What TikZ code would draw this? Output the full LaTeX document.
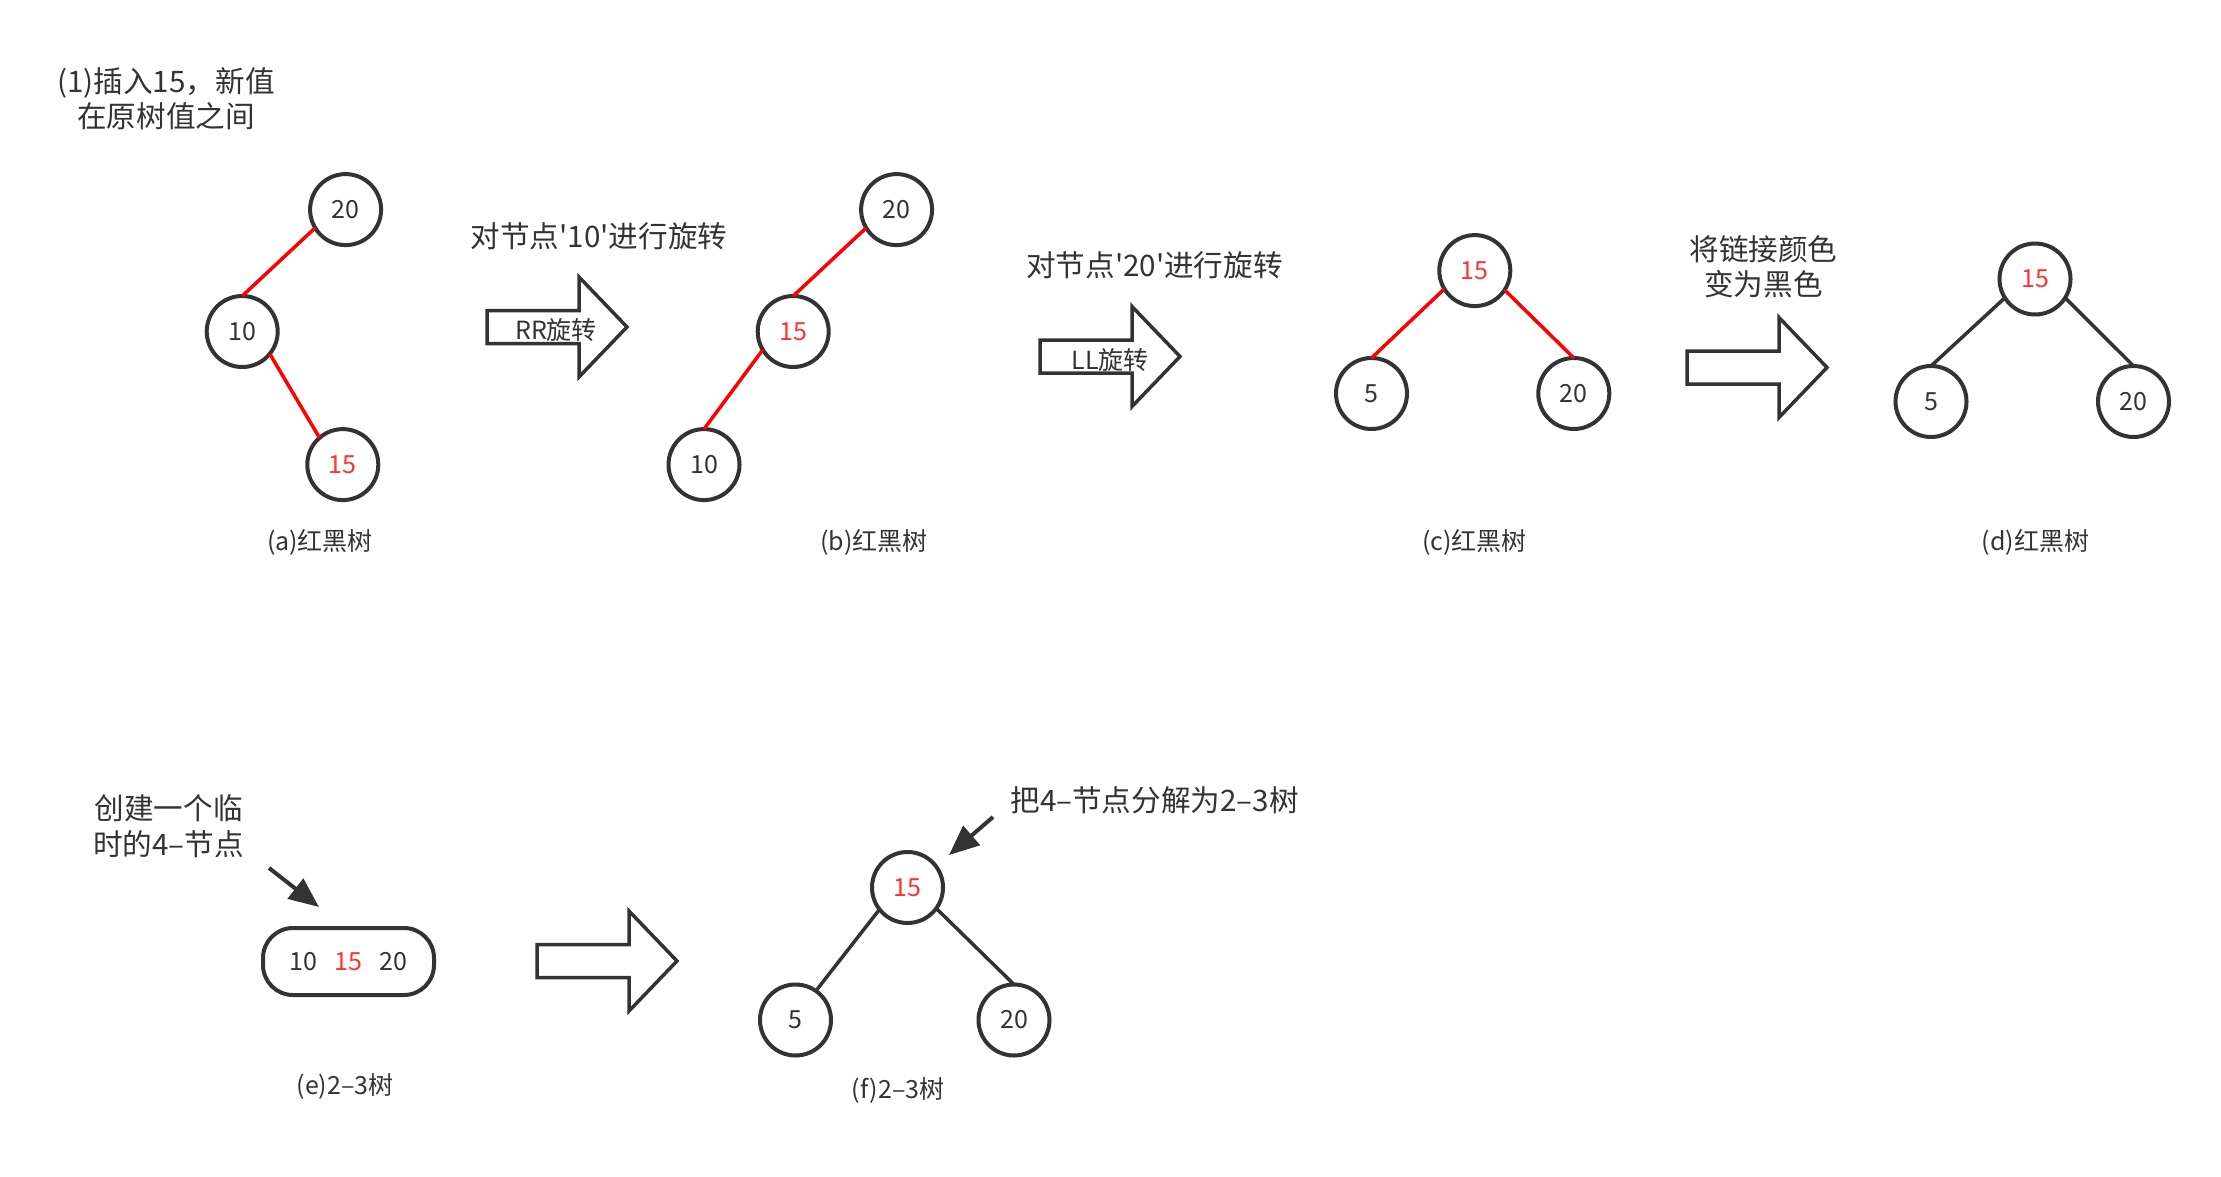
\documentclass[tikz,border=0pt]{standalone}
\usepackage{fontspec}
\setmainfont{Noto Sans CJK SC}
\usetikzlibrary{arrows.meta}
\definecolor{ink}{HTML}{333333}
\definecolor{redline}{HTML}{FF0000}
\definecolor{redtext}{HTML}{FF3333}
\begin{document}
\begin{tikzpicture}[x=0.5pt,y=-0.5pt,
  tnode/.style={circle,draw=ink,line width=2pt,minimum size=35.5pt,inner sep=0pt,outer sep=0pt,text=ink,font=\fontsize{12.5}{15}\selectfont},
  rnode/.style={tnode,text=redtext},
  redge/.style={draw=redline,line width=1.75pt},
  bedge/.style={draw=ink,line width=1.75pt},
  caption/.style={text=ink,font=\fontsize{12.5}{15}\selectfont,inner sep=0pt},
  note/.style={text=ink,font=\fontsize{14.8}{17.7}\selectfont,align=center,inner sep=0pt},
  blockarrow/.style={draw=ink,line width=1.75pt,fill=white,line join=miter},
  pointer/.style={draw=ink,line width=2pt,-{Triangle[length=15pt,width=12.5pt]}}
]
\useasboundingbox (0,0) rectangle (2221,1177);

% title
\node[note] (title) at (166,98.5) {(1)插入15，新值\\在原树值之间};

% tree (a)
\node[tnode] (a20) at (345.6,209.6) {20};
\node[tnode] (a10) at (242.2,331.5) {10};
\node[rnode] (a15) at (342.8,464.6) {15};
\draw[redge] (a20.211) -- (a10.north);
\draw[redge] (a10.321) -- (a15.131);
\node[caption] (capa) at (320,542.5) {(a)红黑树};

% arrow 1
\node[note] (n1) at (599,236.5) {对节点\textquotesingle 10\textquotesingle 进行旋转};
\draw[blockarrow] (487,327) ++(0,-16.5) -- ++(92,0) -- ++(0,-33.5) -- ++(48,50) -- ++(-48,50) -- ++(0,-33.5) -- ++(-92,0) -- cycle;
\node[caption] (rr) at (556,330) {RR旋转};

% tree (b)
\node[tnode] (b20) at (896.6,209.6) {20};
\node[rnode] (b15) at (793.2,331.5) {15};
\node[tnode] (b10) at (704,464.6) {10};
\draw[redge] (b20.211) -- (b15.north);
\draw[redge] (b15.211) -- (b10.north);
\node[caption] (capb) at (874,542.5) {(b)红黑树};

% arrow 2
\node[note] (n2) at (1154.5,265) {对节点\textquotesingle 20\textquotesingle 进行旋转};
\draw[blockarrow] (1040,356.5) ++(0,-16.5) -- ++(92,0) -- ++(0,-33.5) -- ++(48,50) -- ++(-48,50) -- ++(0,-33.5) -- ++(-92,0) -- cycle;
\node[caption] (ll) at (1110,360) {LL旋转};

% tree (c)
\node[rnode] (c15) at (1474.8,270.6) {15};
\node[tnode] (c5) at (1371.5,393.5) {5};
\node[tnode] (c20) at (1573.8,393.5) {20};
\draw[redge] (c15.211) -- (c5.north);
\draw[redge] (c15.327) -- (c20.north);
\node[caption] (capc) at (1474.6,542.5) {(c)红黑树};

% arrow 3
\node[note] (n3) at (1763.5,267) {将链接颜色\\变为黑色};
\draw[blockarrow] (1687,367.5) ++(0,-16.5) -- ++(92,0) -- ++(0,-33.5) -- ++(48,50) -- ++(-48,50) -- ++(0,-33.5) -- ++(-92,0) -- cycle;

% tree (d)
\node[rnode] (d15) at (2035,279) {15};
\node[tnode] (d5) at (1931,401.5) {5};
\node[tnode] (d20) at (2133.5,401.5) {20};
\draw[bedge] (d15.212) -- (d5.north);
\draw[bedge] (d15.328) -- (d20.north);
\node[caption] (capd) at (2035.5,542.5) {(d)红黑树};

% (e) temporary 4-node
\node[note] (n4) at (168.6,826) {创建一个临\\时的4–节点};
\coordinate (p1s) at (269,868);
\coordinate (p1e) at (319,907);
\draw[pointer] (p1s) -- (p1e);
\node[draw=ink,line width=2pt,rounded corners=15pt,minimum width=85.5pt,minimum height=33.5pt,inner sep=0pt,text=ink,font=\fontsize{12.5}{15}\selectfont] (e4) at (348.5,961.5) {10\hspace{8.5pt}\textcolor{redtext}{15}\hspace{8.5pt}20};
\node[caption] (cape) at (345,1086.5) {(e)2–3树};

% arrow 4
\draw[blockarrow] (537,961) ++(0,-16.5) -- ++(92,0) -- ++(0,-33.5) -- ++(48,50) -- ++(-48,50) -- ++(0,-33.5) -- ++(-92,0) -- cycle;

% tree (f)
\node[rnode] (f15) at (907.5,887.5) {15};
\node[tnode] (f5) at (795.5,1020) {5};
\node[tnode] (f20) at (1014,1020) {20};
\draw[bedge] (f15.218) -- (f5.55);
\draw[bedge] (f15.324) -- (f20.north);
\node[caption] (capf) at (898,1090) {(f)2–3树};
\node[note] (n5) at (1154.5,800) {把4–节点分解为2–3树};
\coordinate (p2s) at (993,817);
\coordinate (p2e) at (949,855);
\draw[pointer] (p2s) -- (p2e);
\end{tikzpicture}
\end{document}
